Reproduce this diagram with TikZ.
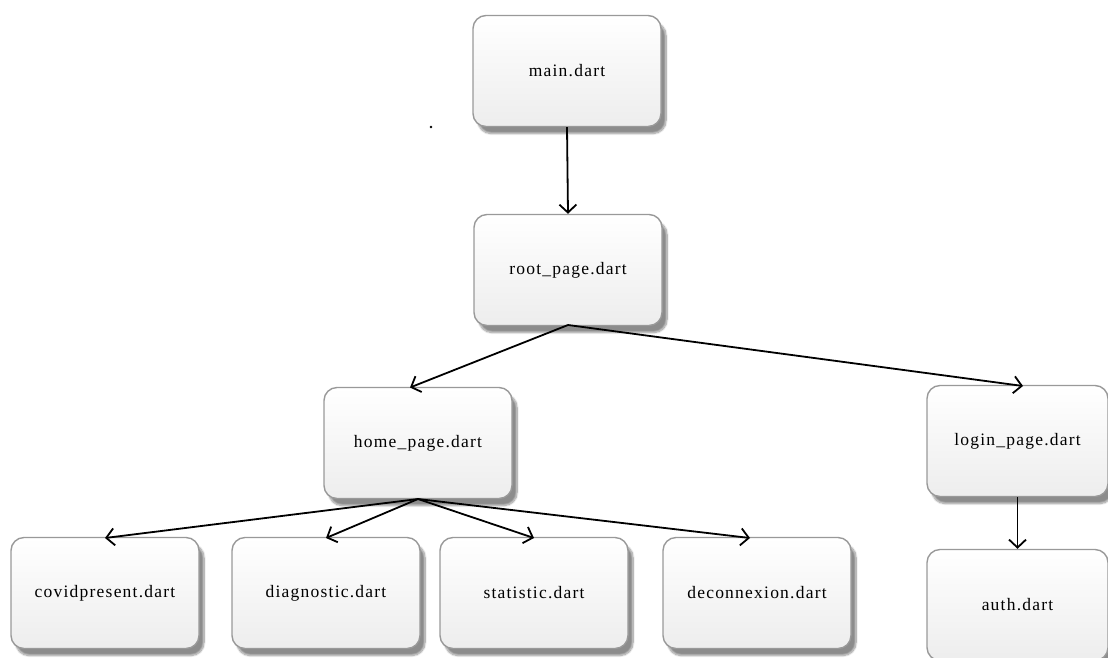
\documentclass[tikz,border=0pt]{standalone}
\usepackage{fontspec}
\setmainfont{Liberation Serif}
\newfontfamily\boxfont[LetterSpace=7]{Liberation Serif}
\usetikzlibrary{arrows.meta,shadows.blur,positioning}
\tikzset{
  filebox/.style={draw=gray!80, line width=1.4pt, rounded corners=13pt,
    top color=white, bottom color=gray!14,
    minimum width=188pt, minimum height=111pt, inner sep=0pt,
    font=\boxfont\fontsize{17.5}{20}\selectfont,
    blur shadow={shadow xshift=5pt, shadow yshift=-7pt, shadow blur steps=10, shadow blur extra rounding=4pt, shadow opacity=45}},
  link/.style={line width=1.8pt, -{Straight Barb[length=8pt,width=17pt,line width=1.8pt]}}
}
\begin{document}
\begin{tikzpicture}[x=1pt,y=-1pt]
\useasboundingbox (0,0) rectangle (1108,657);
\node[filebox] (main) at (567,71) {main.dart};
\node[filebox] (root) at (568,270) {root\_page.dart};
\node[filebox] (home) at (418,443) {home\_page.dart};
\node[filebox, minimum width=181pt] (login) at (1017.5,441) {login\_page.dart};
\node[filebox, minimum width=181pt] (auth) at (1017.5,605) {auth.dart};
\node[filebox] (covid) at (105,593) {covidpresent.dart};
\node[filebox] (diag) at (326,593) {diagnostic.dart};
\node[filebox] (stat) at (534,593) {statistic.dart};
\node[filebox] (decon) at (757,593) {deconnexion.dart};
\fill (431,127) circle (1.3pt);
\coordinate (rb) at (568,325);
\coordinate (hb) at (418,499);
\draw[link] (main.south) -- (root.north);
\draw[link] (rb) -- (410,387.5);
\draw[link] (rb) -- (1023,386);
\draw[link] (hb) -- (105,538);
\draw[link] (hb) -- (326,538);
\draw[link] (hb) -- (534,538);
\draw[link] (hb) -- (750,538);
\draw[link] (login.south) -- (auth.north);
\end{tikzpicture}
\end{document}
